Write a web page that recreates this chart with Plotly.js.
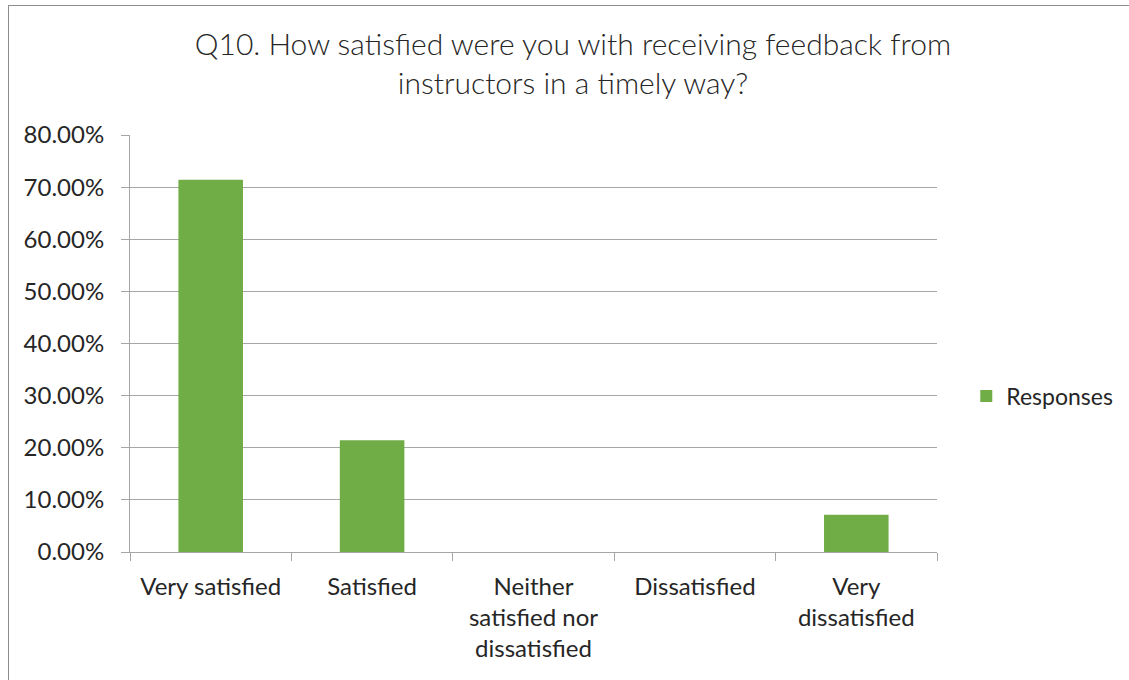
<!DOCTYPE html>
<html>
<head>
<meta charset="utf-8">
<script src="https://cdn.plot.ly/plotly-3.0.1.min.js"></script>
<style>
  html, body { margin: 0; padding: 0; overflow: hidden; background: #fff; }
  #chart { width: 1129px; height: 680px; }
  #frame { position: absolute; left: 8px; top: 5px; width: 1300px; height: 900px;
           border: 1px solid #8c8c8c; pointer-events: none; }
</style>
</head>
<body>
<div id="chart"></div>
<div id="frame"></div>
<script>
const categories = ["Very satisfied", "Satisfied", "Neither<br>satisfied nor<br>dissatisfied", "Dissatisfied", "Very<br>dissatisfied"];
const responses = [0.7143, 0.2143, 0, 0, 0.0714];
const seriesName = "Responses";
const titleText = "Q10. How satisfied were you with receiving feedback from<br>instructors in a timely way?";

const textColor = "#262626";
const gridColor = "#a6a6a6";
const fontFamily = "Lato, 'Open Sans', sans-serif";

const trace = {
  type: "bar",
  x: categories,
  y: responses,
  name: seriesName,
  marker: { color: "#70ad47" },
  hoverinfo: "x+y",
  showlegend: true
};

const layout = {
  width: 1129,
  height: 680,
  margin: { l: 130, r: 191, t: 135, b: 128, pad: 0 },
  paper_bgcolor: "#ffffff",
  plot_bgcolor: "#ffffff",
  font: { family: fontFamily, color: textColor, size: 24 },
  title: {
    text: titleText,
    font: { family: fontFamily, size: 30, color: textColor, weight: 300 },
    x: 0.5075, xanchor: "center", xref: "container",
    y: 0.919, yanchor: "middle", yref: "container"
  },
  bargap: 0.6,
  showlegend: true,
  legend: {
    x: 1.035, xanchor: "left",
    y: 0.374, yanchor: "middle",
    font: { family: fontFamily, size: 23, color: textColor },
    bgcolor: "rgba(0,0,0,0)",
    itemwidth: 30
  },
  xaxis: {
    type: "category",
    showgrid: false,
    showline: true, linecolor: gridColor, linewidth: 1,
    ticks: "outside", tickson: "boundaries", ticklen: 8, tickcolor: gridColor, tickwidth: 1,
    tickfont: { family: fontFamily, size: 24, color: textColor },
    ticklabelstandoff: 13,
    tickangle: 0,
    zeroline: false,
    fixedrange: true
  },
  yaxis: {
    range: [0, 0.8],
    dtick: 0.1,
    tick0: 0,
    tickformat: ".2%",
    showgrid: true, gridcolor: gridColor, gridwidth: 1,
    showline: true, linecolor: gridColor, linewidth: 1,
    ticks: "outside", ticklen: 8, tickcolor: gridColor, tickwidth: 1,
    tickfont: { family: fontFamily, size: 24, color: textColor },
    ticklabelstandoff: 12,
    zeroline: false,
    fixedrange: true
  }
};

Plotly.newPlot("chart", [trace], layout, { displayModeBar: false, staticPlot: true });
</script>
</body>
</html>
